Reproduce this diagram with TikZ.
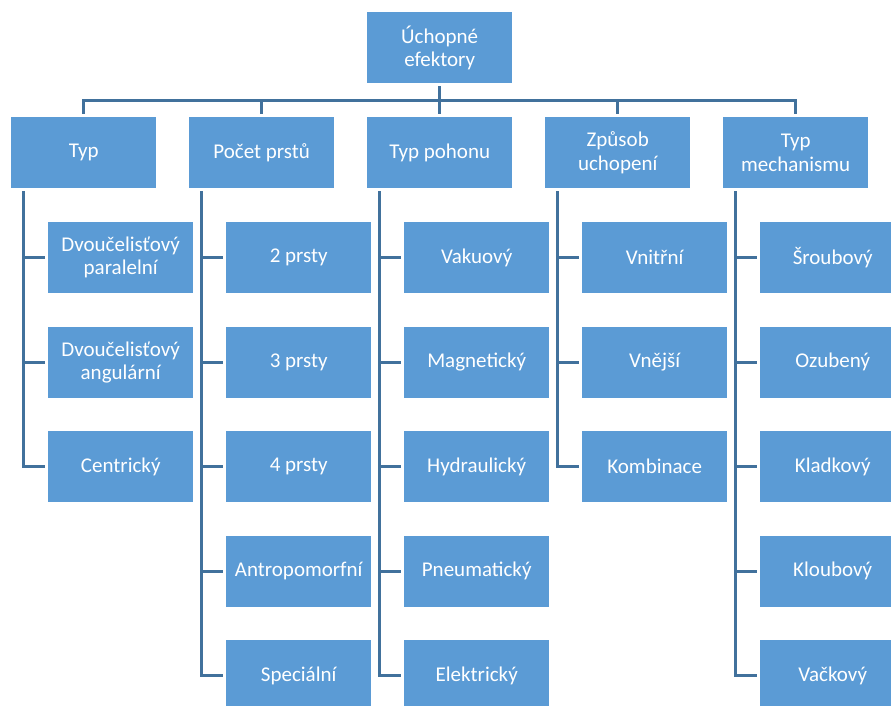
\documentclass[tikz,border=0pt]{standalone}
\usepackage{fontspec}
\setmainfont{Carlito}
\definecolor{boxblue}{HTML}{5B9BD5}
\definecolor{lineblue}{HTML}{41719C}
\begin{document}
\begin{tikzpicture}[x=1pt,y=-1pt,
  box/.style={rectangle, fill=boxblue, draw=none, text=white, align=center,
    minimum width=145pt, minimum height=71pt, inner sep=0pt, anchor=north west,
    font=\fontsize{21}{23.3}\selectfont},
  conn/.style={draw=lineblue, line width=3pt, shorten <=3pt, shorten >=3pt},
  stub/.style={draw=lineblue, line width=3pt, shorten >=3pt}]
\useasboundingbox (0,0) rectangle (891,705);
\clip (0,0) rectangle (891,705);
% root
\node[box] (root) at (367,12) {Úchopné\\efektory};
% level 1
\node[box] (a) at (11,117) {Typ};
\node[box] (b) at (189,117) {Počet prstů};
\node[box] (c) at (367,117) {Typ pohonu};
\node[box] (d) at (545,117) {Způsob\\uchopení};
\node[box] (e) at (723,117) {Typ\\mechanismu};
% level 2
\node[box] (a1) at (48,222) {Dvoučelisťový\\paralelní};
\node[box] (a2) at (48,326.5) {Dvoučelisťový\\angulární};
\node[box] (a3) at (48,431) {Centrický};
\node[box] (b1) at (226,222) {2 prsty};
\node[box] (b2) at (226,326.5) {3 prsty};
\node[box] (b3) at (226,431) {4 prsty};
\node[box] (b4) at (226,535.5) {Antropomorfní};
\node[box] (b5) at (226,640) {Speciální};
\node[box] (c1) at (404,222) {Vakuový};
\node[box] (c2) at (404,326.5) {Magnetický};
\node[box] (c3) at (404,431) {Hydraulický};
\node[box] (c4) at (404,535.5) {Pneumatický};
\node[box] (c5) at (404,640) {Elektrický};
\node[box] (d1) at (582,222) {Vnitřní};
\node[box] (d2) at (582,326.5) {Vnější};
\node[box] (d3) at (582,431) {Kombinace};
\node[box] (e1) at (760,222) {Šroubový};
\node[box] (e2) at (760,326.5) {Ozubený};
\node[box] (e3) at (760,431) {Kladkový};
\node[box] (e4) at (760,535.5) {Kloubový};
\node[box] (e5) at (760,640) {Vačkový};
% root to level 1
\coordinate (bus) at (0,100);
\foreach \p in {a,b,c,d,e}
  \draw[conn] (root.south) -- (root.south |- bus) -| (\p.north);
% level 1 to level 2
\foreach \p/\last/\others in {a/a3/{a1,a2}, b/b5/{b1,b2,b3,b4}, c/c5/{c1,c2,c3,c4}, d/d3/{d1,d2}, e/e5/{e1,e2,e3,e4}}{
  \coordinate (\p-top) at ([xshift=12pt]\p.south west);
  \draw[conn] (\p-top) |- (\last.west);
  \foreach \q in \others
    \draw[stub] (\p-top |- \q.west) -- (\q.west);
}
\end{tikzpicture}
\end{document}
